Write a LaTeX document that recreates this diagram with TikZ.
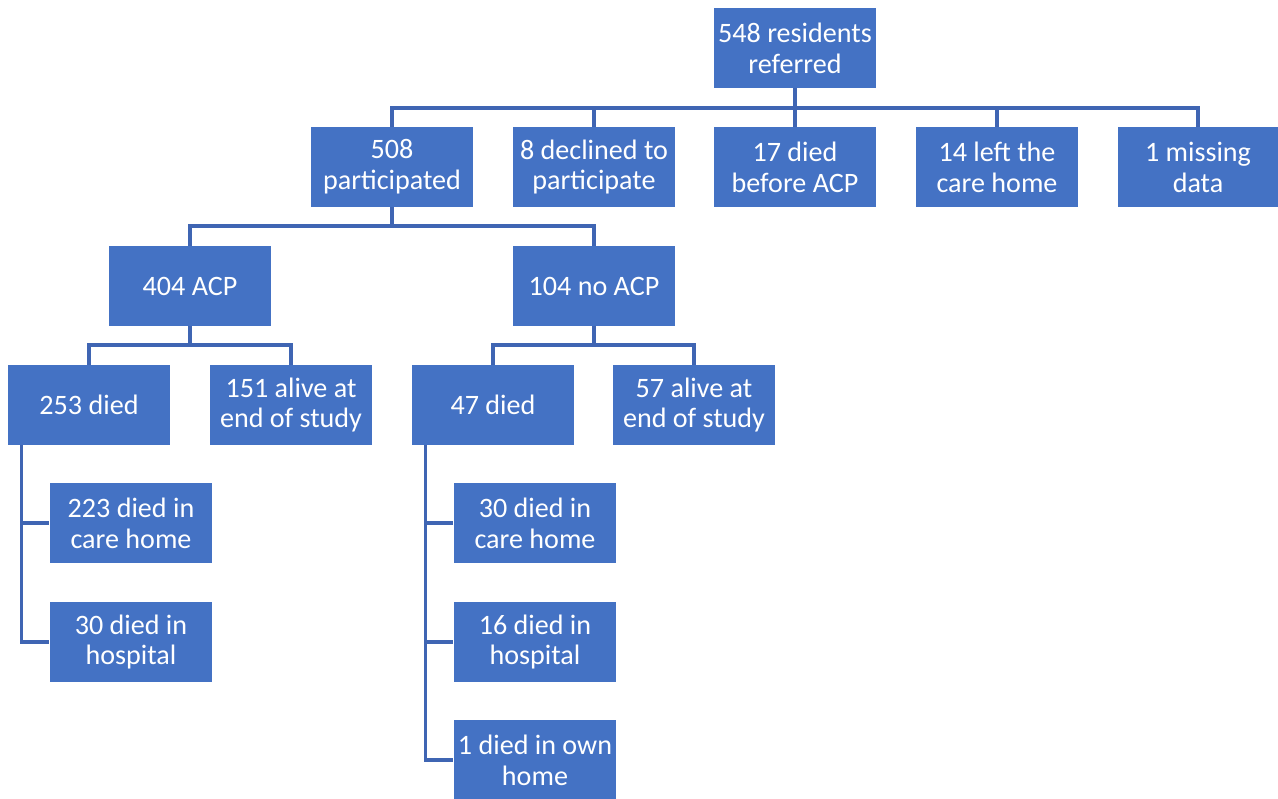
\documentclass[tikz,border=0pt]{standalone}
\usepackage{fontspec}
\setmainfont{Carlito}
\usetikzlibrary{positioning}
\definecolor{boxblue}{HTML}{4472C4}
\definecolor{lineblue}{HTML}{3F65B3}
\tikzset{
    box/.style={draw=none, fill=boxblue, text=white, minimum width=3.26cm, minimum height=1.6cm, inner sep=0pt, align=center, font=\fontsize{16}{17.6}\selectfont},
    link/.style={draw=lineblue, line width=1.8pt}
}
\begin{document}
\begin{tikzpicture}[x=0.02cm, y=-0.02cm]
    \useasboundingbox (0,0) rectangle (1278,798);

    \node[box] (ref) at (795,48) {548 residents\\referred};

    \node[box] (part) at (392,167) {508\\participated};
    \node[box] (decl) at (594,167) {8 declined to\\participate};
    \node[box] (diedb) at (795,167) {17 died\\before ACP};
    \node[box] (left) at (997,167) {14 left the\\care home};
    \node[box, minimum width=3.2cm] (miss) at (1198,167) {1 missing\\data};

    \node[box] (acp) at (190,286) {404 ACP};
    \node[box] (noacp) at (594,286) {104 no ACP};

    \node[box] (died1) at (89,405) {253 died};
    \node[box] (alive1) at (291,405) {151 alive at\\end of study};
    \node[box] (died2) at (493,405) {47 died};
    \node[box] (alive2) at (694,405) {57 alive at\\end of study};

    \node[box] (care1) at (131,523) {223 died in\\care home};
    \node[box] (hosp1) at (131,642) {30 died in\\hospital};

    \node[box] (care2) at (535,523) {30 died in\\care home};
    \node[box] (hosp2) at (535,642) {16 died in\\hospital};
    \node[box] (own2) at (535,760) {1 died in own\\home};

    % branch lines
    \coordinate (bus1) at (795,108);
    \coordinate (bus2) at (392,226);
    \coordinate (bus3) at (190,345);
    \coordinate (bus4) at (594,345);

    \draw[link] (ref.south) -- (bus1);
    \foreach \n in {part,decl,diedb,left,miss}
        \draw[link] (bus1) -| (\n.north);

    \draw[link] (part.south) -- (bus2);
    \draw[link] (bus2) -| (acp.north);
    \draw[link] (bus2) -| (noacp.north);

    \draw[link] (acp.south) -- (bus3);
    \draw[link] (bus3) -| (died1.north);
    \draw[link] (bus3) -| (alive1.north);

    \draw[link] (noacp.south) -- (bus4);
    \draw[link] (bus4) -| (died2.north);
    \draw[link] (bus4) -| (alive2.north);

    \draw[link] ([xshift=0.28cm]died1.south west) |- (care1.west);
    \draw[link] ([xshift=0.28cm]died1.south west) |- (hosp1.west);

    \draw[link] ([xshift=0.28cm]died2.south west) |- (care2.west);
    \draw[link] ([xshift=0.28cm]died2.south west) |- (hosp2.west);
    \draw[link] ([xshift=0.28cm]died2.south west) |- (own2.west);
\end{tikzpicture}
\end{document}
